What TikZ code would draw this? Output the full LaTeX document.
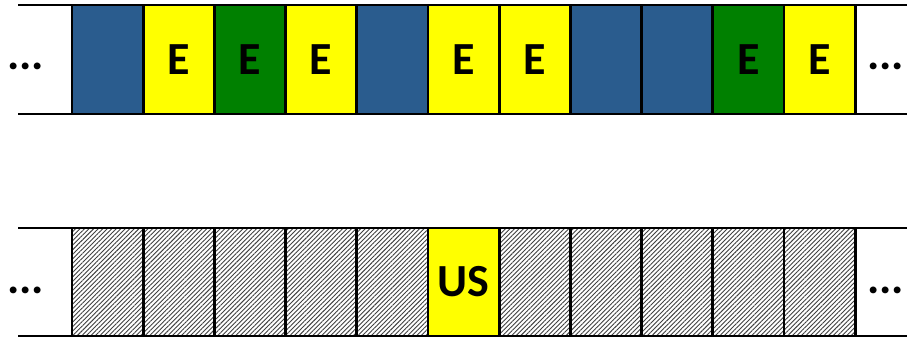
\documentclass[tikz,border=0pt]{standalone}
\usepackage{fontspec}
\setmainfont{Carlito}
\usetikzlibrary{patterns.meta}
\definecolor{slotblue}{RGB}{42,92,142}
\definecolor{slotgreen}{RGB}{0,128,0}
\definecolor{slotyellow}{RGB}{255,255,0}
\tikzset{
  slot/.style={draw=black, line width=2.8pt, minimum width=71.2pt, minimum height=109pt, inner sep=0pt, font={\bfseries\fontsize{46}{46}\selectfont}},
  blueslot/.style={slot, fill=slotblue},
  greenslot/.style={slot, fill=slotgreen},
  yellowslot/.style={slot, fill=slotyellow},
  idleslot/.style={slot, minimum height=108pt, preaction={fill=white}, pattern={Lines[angle=45,distance=3.2pt,line width=0.9pt]}, pattern color=black!75},
  rail/.style={line width=2.8pt},
  more/.style={font={\bfseries\fontsize{46}{46}\selectfont}, inner sep=0pt}
}
\begin{document}
\begin{tikzpicture}[x=1pt,y=-1pt]
\useasboundingbox (0,0) rectangle (907,345);
\draw[rail] (18,5) -- (907,5);
\draw[rail] (18,114) -- (907,114);
\draw[rail] (18,228) -- (907,228);
\draw[rail] (18,336) -- (907,336);
\node[blueslot] (t0) at (107.6,59.5) {};
\node[yellowslot] (t1) at (178.8,59.5) {E};
\node[greenslot] (t2) at (250.0,59.5) {E};
\node[yellowslot] (t3) at (321.2,59.5) {E};
\node[blueslot] (t4) at (392.4,59.5) {};
\node[yellowslot] (t5) at (463.6,59.5) {E};
\node[yellowslot] (t6) at (534.8,59.5) {E};
\node[blueslot] (t7) at (606.0,59.5) {};
\node[blueslot] (t8) at (677.2,59.5) {};
\node[greenslot] (t9) at (748.4,59.5) {E};
\node[yellowslot] (t10) at (819.6,59.5) {E};
\node[idleslot] (b0) at (107.6,282) {};
\node[idleslot] (b1) at (178.8,282) {};
\node[idleslot] (b2) at (250.0,282) {};
\node[idleslot] (b3) at (321.2,282) {};
\node[idleslot] (b4) at (392.4,282) {};
\node[yellowslot, minimum height=108pt] (b5) at (463.6,282) {US};
\node[idleslot] (b6) at (534.8,282) {};
\node[idleslot] (b7) at (606.0,282) {};
\node[idleslot] (b8) at (677.2,282) {};
\node[idleslot] (b9) at (748.4,282) {};
\node[idleslot] (b10) at (819.6,282) {};
\node[more, anchor=base west] (tl) at (7,70) {...};
\node[more, anchor=base west] (tr) at (867,70) {...};
\node[more, anchor=base west] (bl) at (7,293) {...};
\node[more, anchor=base west] (br) at (867,293) {...};
\end{tikzpicture}
\end{document}
